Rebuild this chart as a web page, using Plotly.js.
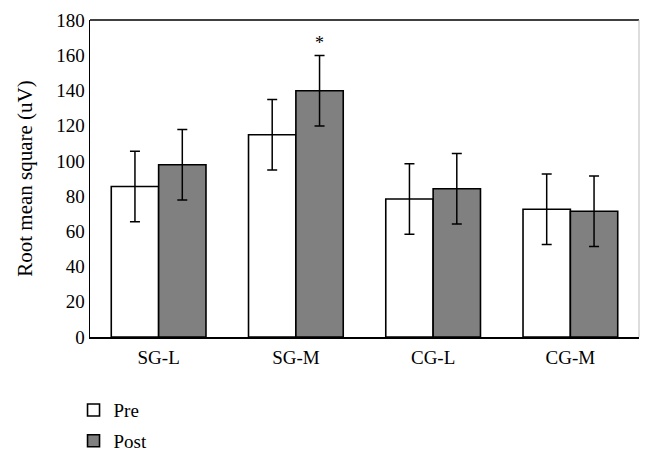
<!DOCTYPE html>
<html><head><meta charset="utf-8">
<script src="https://cdn.plot.ly/plotly-3.0.1.min.js"></script>
<style>html,body{margin:0;padding:0;background:#fff}</style>
</head><body>
<div id="chart" style="width:654px;height:464px"></div>
<script>
const categories = ["SG-L", "SG-M", "CG-L", "CG-M"];
const preValues = [85.5, 114.8, 78.4, 72.5];
const postValues = [97.8, 139.8, 84.2, 71.4];
const preErrors = [20, 20, 20, 20];
const postErrors = [20, 20, 20, 20];
const yTicks = [0, 20, 40, 60, 80, 100, 120, 140, 160, 180];

const FAM = "Liberation Serif, serif";
const font = {family: FAM, color: "#000", size: 19};

const traces = [
  {type: "bar", name: "Pre", x: categories, y: preValues, legendgroup: "pre",
   marker: {color: "#ffffff", line: {color: "#000", width: 1.6}},
   error_y: {type: "data", array: preErrors, visible: true, color: "#000", thickness: 1.5, width: 5}},
  {type: "bar", name: "Post", x: categories, y: postValues, legendgroup: "post",
   marker: {color: "#808080", line: {color: "#000", width: 1.6}},
   error_y: {type: "data", array: postErrors, visible: true, color: "#000", thickness: 1.5, width: 5}}
];

const layout = {
  width: 654, height: 464,
  margin: {l: 90, r: 15, t: 20, b: 127, autoexpand: false},
  paper_bgcolor: "#fff", plot_bgcolor: "#fff",
  font: font,
  barmode: "group", bargap: 0.31, bargroupgap: 0,
  showlegend: true,
  legend: {x: -0.03, y: -0.171, xanchor: "left", yanchor: "top",
           orientation: "v", traceorder: "grouped", tracegroupgap: 3,
           font: {family: FAM, size: 19, color: "#000"}, itemwidth: 30},
  xaxis: {showline: true, linecolor: "#000", linewidth: 1.5, ticks: "", showgrid: false,
          tickfont: {family: FAM, size: 19, color: "#000"}, automargin: false, ticklabelstandoff: 3},
  yaxis: {range: [0, 180], tickvals: yTicks, showline: true, linecolor: "#000", linewidth: 1.5,
          ticks: "", showgrid: false, zeroline: false, automargin: false,
          tickfont: {family: FAM, size: 19, color: "#000"},
          title: {text: "Root mean square (uV)", font: {family: FAM, size: 21, color: "#000"}, standoff: 18}},
  shapes: [
    {type: "line", xref: "paper", yref: "paper", x0: 0, x1: 1, y0: 1, y1: 1, line: {color: "#000", width: 1.5}},
    {type: "line", xref: "paper", yref: "paper", x0: 1, x1: 1, y0: 0, y1: 1, line: {color: "#bbb", width: 1}}
  ],
  annotations: [
    {x: 1.17, xref: "x", y: 160, yref: "y", text: "*", showarrow: false, yanchor: "bottom",
     font: {family: FAM, size: 18, color: "#000"}}
  ]
};

Plotly.newPlot("chart", traces, layout, {displayModeBar: false, staticPlot: true});
</script>
</body></html>
